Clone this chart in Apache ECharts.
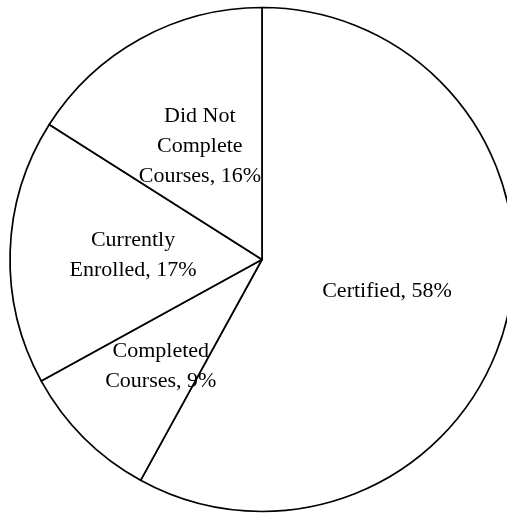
<!DOCTYPE html>
<html>
<head>
<meta charset="utf-8">
<style>
  html, body { margin: 0; padding: 0; background: #fff; }
  #chart { width: 507px; height: 513px; }
</style>
<script src="https://cdn.jsdelivr.net/npm/echarts@6/dist/echarts.min.js"></script>
</head>
<body>
<div id="chart"></div>
<script>
// Course outcome shares (percent), clockwise from 12 o'clock
const categories = ['Certified', 'Completed\nCourses', 'Currently\nEnrolled', 'Did Not\nComplete\nCourses'];
const shares = [58, 9, 17, 16];

const chart = echarts.init(document.getElementById('chart'), null, { renderer: 'canvas' });

chart.setOption({
  backgroundColor: '#ffffff',
  animation: false,
  series: [{
    type: 'pie',
    center: [262, 259.5],
    radius: 252,
    startAngle: 90,
    clockwise: true,
    avoidLabelOverlap: false,
    silent: true,
    itemStyle: {
      color: '#ffffff',
      borderColor: '#000000',
      borderWidth: 1.7
    },
    label: {
      show: true,
      position: 'inside',
      formatter: p => p.name + ', ' + p.value + '%',
      fontFamily: '"Liberation Serif", "Times New Roman", serif',
      fontSize: 22,
      lineHeight: 30,
      color: '#000000',
      align: 'center'
    },
    labelLine: { show: false },
    // the narrow slice's label sits a little further out
    labelLayout: p => (p.dataIndex === 1 ? { dx: -10, dy: 16 } : {}),
    data: categories.map((name, i) => ({ name, value: shares[i] }))
  }]
});
</script>
</body>
</html>
